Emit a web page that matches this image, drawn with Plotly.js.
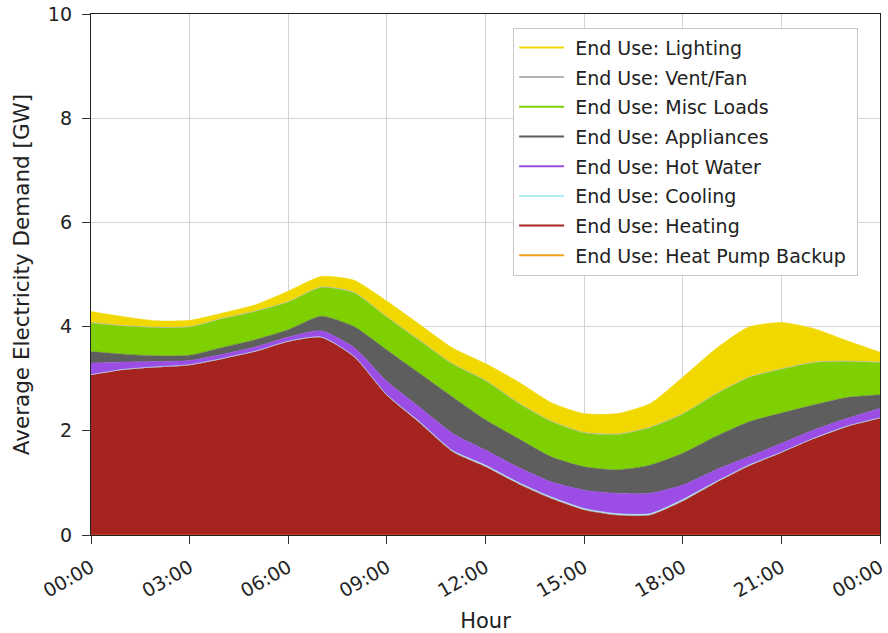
<!DOCTYPE html>
<html>
<head>
<meta charset="utf-8">
<script src="https://cdn.plot.ly/plotly-3.0.1.min.js"></script>
<style>html,body{margin:0;padding:0;background:#fff;}#chart{width:888px;height:633px;}</style>
</head>
<body>
<div id="chart"></div>
<script>
// Hour of day (0..24)
var hours = [0,1,2,3,4,5,6,7,8,9,10,11,12,13,14,15,16,17,18,19,20,21,22,23,24];
var tickHours = [0,3,6,9,12,15,18,21,24];
var tickLabels = ["00:00","03:00","06:00","09:00","12:00","15:00","18:00","21:00","00:00"];

// Average electricity demand by end use [GW]
var heatPumpBackup = [0,0,0,0,0,0,0,0,0,0,0,0,0,0,0,0,0,0,0,0,0,0,0,0,0];
var heating   = [3.07,3.17,3.22,3.26,3.38,3.52,3.71,3.79,3.42,2.68,2.15,1.60,1.31,0.98,0.70,0.48,0.38,0.38,0.65,1.00,1.32,1.58,1.85,2.08,2.24];
var cooling   = [0.01,0.01,0.01,0.01,0.01,0.01,0.01,0.01,0.01,0.01,0.02,0.02,0.03,0.03,0.03,0.03,0.03,0.03,0.03,0.02,0.02,0.01,0.01,0.01,0.01];
var hotWater  = [0.22,0.14,0.10,0.08,0.08,0.08,0.08,0.12,0.17,0.26,0.28,0.33,0.29,0.29,0.29,0.35,0.39,0.39,0.28,0.23,0.16,0.17,0.16,0.15,0.18];
var appliances= [0.22,0.15,0.11,0.10,0.13,0.14,0.14,0.28,0.40,0.60,0.65,0.70,0.58,0.55,0.48,0.45,0.45,0.54,0.61,0.64,0.67,0.58,0.48,0.40,0.26];
var miscLoads = [0.55,0.54,0.54,0.54,0.55,0.54,0.53,0.55,0.65,0.63,0.63,0.63,0.75,0.68,0.68,0.65,0.68,0.72,0.75,0.81,0.85,0.84,0.81,0.69,0.62];
var ventFan   = [0.01,0.01,0.01,0.01,0.01,0.01,0.01,0.01,0.01,0.01,0.01,0.01,0.01,0.01,0.01,0.01,0.01,0.01,0.01,0.01,0.01,0.01,0.01,0.01,0.01];
var lighting  = [0.21,0.17,0.12,0.12,0.10,0.12,0.20,0.20,0.23,0.30,0.30,0.30,0.32,0.40,0.35,0.36,0.39,0.45,0.70,0.86,0.96,0.89,0.64,0.39,0.19];

var series = [
  {name:"End Use: Heat Pump Backup", y:heatPumpBackup, color:"#f0a020"},
  {name:"End Use: Heating",          y:heating,        color:"#a5241f"},
  {name:"End Use: Cooling",          y:cooling,        color:"#aeeef2"},
  {name:"End Use: Hot Water",        y:hotWater,       color:"#9b4de6"},
  {name:"End Use: Appliances",       y:appliances,     color:"#5e5e5e"},
  {name:"End Use: Misc Loads",       y:miscLoads,      color:"#7fd000"},
  {name:"End Use: Vent/Fan",         y:ventFan,        color:"#b4b4b4"},
  {name:"End Use: Lighting",         y:lighting,       color:"#f0d800"}
];

var traces = [];
series.forEach(function(s){
  traces.push({
    x: hours, y: s.y, type:"scatter", mode:"lines", stackgroup:"one",
    name: s.name, line:{width:0.5, color:s.color, shape:"spline", smoothing:0.6}, fillcolor:s.color,
    showlegend:false, hoverinfo:"x+y+name"
  });
});
// Legend entries (line samples), top to bottom
series.slice().reverse().forEach(function(s, i){
  traces.push({
    x:[null], y:[null], type:"scatter", mode:"lines", name:"\u00a0" + s.name + "\u00a0",
    legendgroup:"g"+i, line:{color:s.color, width:2}, showlegend:true
  });
});

var layout = {
  width:888, height:633,
  margin:{l:91, r:8, t:14, b:98},
  paper_bgcolor:"#ffffff", plot_bgcolor:"#ffffff",
  font:{family:"DejaVu Sans", size:19, color:"#111"},
  showlegend:true,
  legend:{x:0.535, y:0.974, xanchor:"left", yanchor:"top",
    bgcolor:"#ffffff", bordercolor:"#c8c8c8", borderwidth:1,
    font:{family:"DejaVu Sans", size:19, color:"#222"},
    traceorder:"grouped", tracegroupgap:2, itemwidth:45},
  xaxis:{range:[0,24], tickmode:"array", tickvals:tickHours, ticktext:tickLabels,
    tickangle:-30, ticks:"outside", ticklen:8, tickcolor:"#333",
    tickfont:{size:19, color:"#222"}, ticklabelstandoff:5,
    showline:true, linecolor:"#222", linewidth:1.2, mirror:true,
    showgrid:true, gridcolor:"#d4d4d4", gridwidth:1, zeroline:false,
    title:{text:"Hour", font:{size:21, color:"#222"}, standoff:14}},
  yaxis:{range:[0,10], tickvals:[0,2,4,6,8,10], ticks:"outside", ticklen:8, tickcolor:"#333",
    tickfont:{size:19, color:"#222"}, ticklabelstandoff:6,
    showline:true, linecolor:"#222", linewidth:1.2, mirror:true,
    showgrid:true, gridcolor:"#d4d4d4", gridwidth:1, zeroline:false,
    title:{text:"Average Electricity Demand [GW]", font:{size:21.5, color:"#222"}, standoff:12}}
};

Plotly.newPlot("chart", traces, layout, {displayModeBar:false, staticPlot:true});
</script>
</body>
</html>
